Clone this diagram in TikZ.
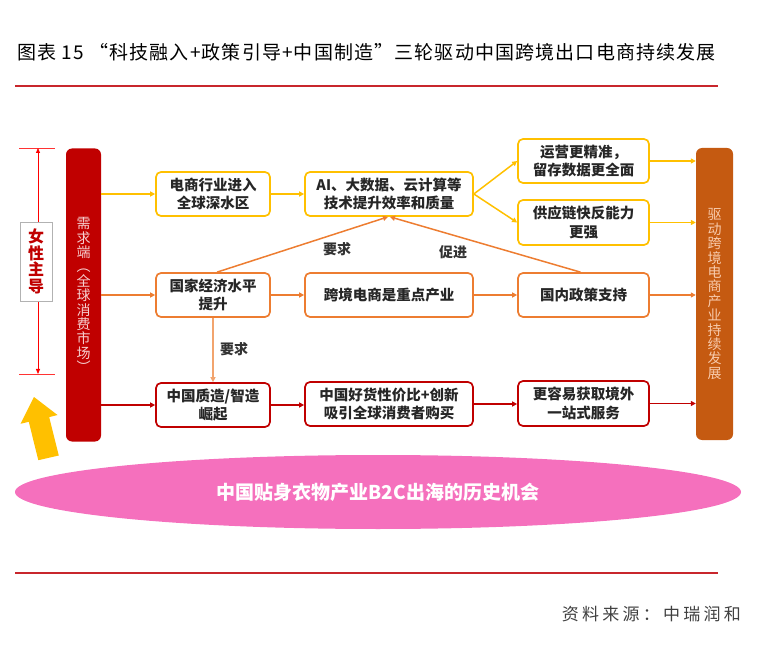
\documentclass[tikz,border=0pt]{standalone}
\usepackage{fontspec}
\usetikzlibrary{arrows.meta,shapes.geometric}
\newfontfamily\cjk{Noto Sans CJK SC}
\newfontfamily\cjktitle{Noto Sans CJK SC}[LetterSpace=6]
\newfontfamily\cjksrc{Noto Sans CJK SC}[LetterSpace=19]
\definecolor{ylw}{HTML}{FFC000}
\definecolor{org}{HTML}{ED7D31}
\definecolor{lorg}{HTML}{F2A46E}
\definecolor{drd}{HTML}{C00000}
\definecolor{brn}{HTML}{C55A11}
\definecolor{ttl}{HTML}{C8262C}
\definecolor{pnk}{HTML}{F570BD}
\definecolor{peach}{HTML}{F8CBAD}
\definecolor{lpink}{HTML}{F6D0D0}
\tikzset{
  box/.style={draw, rounded corners=5pt, line width=1.7pt, fill=white, align=center,
    font=\cjk\bfseries\fontsize{14.5}{18.5}\selectfont, inner sep=0pt, text=black!85},
  conn/.style={line width=1.5pt, -{Triangle[length=5pt,width=5pt]}},
  lbl/.style={font=\cjk\bfseries\fontsize{14}{15}\selectfont, text=black!80},
  vbar/.style={rounded corners=6pt, inner sep=0pt, align=center,
    font=\cjk\fontsize{14}{14.4}\selectfont},
}
\begin{document}
\begin{tikzpicture}[x=1pt,y=-1pt]
\useasboundingbox (0,0) rectangle (758,660);
% title and rules
\node[anchor=west, inner sep=0pt, font=\cjktitle\fontsize{19}{22}\selectfont] (title) at (17,52)
  {图表 15 “科技融入+政策引导+中国制造”三轮驱动中国跨境出口电商持续发展};
\draw[ttl, line width=2pt] (15,86) -- (718,86);
\draw[ttl, line width=1.5pt] (15,573) -- (718,573);
\node[anchor=east, inner sep=0pt, font=\cjksrc\fontsize{17}{20}\selectfont, text=black!75] (src) at (741,614)
  {资料来源：中瑞润和};

% side bars
\node[vbar, fill=drd, text=lpink, minimum width=35, minimum height=293] (lb) at (83.5,295)
  {需\\求\\端\\︵\\全\\球\\消\\费\\市\\场\\︶};
\node[vbar, fill=brn, text=peach, minimum width=37, minimum height=292] (rb) at (714.5,294)
  {驱\\动\\跨\\境\\电\\商\\产\\业\\持\\续\\发\\展};

% women-led dimension
\draw[red!80, line width=0.8pt] (19,148) -- (55,148);
\draw[red!80, line width=0.8pt] (19,374) -- (55,374);
\draw[red, line width=0.8pt, {Triangle[length=5pt,width=4pt]}-{Triangle[length=5pt,width=4pt]}] (38,148) -- (38,374);
\node[draw=black!30, fill=white, minimum width=32, minimum height=79, inner sep=0pt, align=center,
  font=\cjk\bfseries\fontsize{16}{16.5}\selectfont, text=drd] (nv) at (36,261.5) {女\\性\\主\\导};

% yellow big arrow
\fill[ylw] (58.8,455.5) -- (49.2,417.1) -- (57.5,415.0) -- (34,397) -- (20.5,423.8) -- (28.8,421.8) -- (38.3,460.2) -- cycle;

% row 1
\node[box, draw=ylw, minimum width=114, minimum height=44] (b1) at (213,194) {电商行业进入\\全球深水区};
\node[box, draw=ylw, minimum width=168, minimum height=44] (ai) at (389,194) {AI、大数据、云计算等\\技术提升效率和质量};
\node[box, draw=ylw, minimum width=131, minimum height=44] (y1) at (583.5,161) {运营更精准，\\留存数据更全面};
\node[box, draw=ylw, minimum width=131, minimum height=45] (y2) at (583.5,222.5) {供应链快反能力\\更强};
% row 2
\node[box, draw=org, minimum width=114, minimum height=44] (gj) at (213,295) {国家经济水平\\提升};
\node[box, draw=org, minimum width=168, minimum height=44] (kj) at (389,295) {跨境电商是重点产业};
\node[box, draw=org, minimum width=131, minimum height=44] (gn) at (583.5,295) {国内政策支持};
% row 3
\node[box, draw=drd, minimum width=114, minimum height=44] (zz) at (213,405) {中国质造/智造\\崛起};
\node[box, draw=drd, minimum width=168, minimum height=44] (hh) at (389,404) {中国好货性价比+创新\\吸引全球消费者购买};
\node[box, draw=drd, minimum width=131, minimum height=45] (gy) at (583.5,403.5) {更容易获取境外\\一站式服务};

% connectors row 1
\draw[conn, ylw] (lb.east |- b1.west) -- (b1.west);
\draw[conn, ylw] (b1.east) -- (ai.west);
\draw[conn, ylw] (ai.east) -- (y1.west);
\draw[conn, ylw] (ai.east) -- (y2.west);
\draw[conn, ylw] (y1.east) -- (rb.west |- y1.east);
\draw[conn, ylw] (y2.east) -- (rb.west |- y2.east);
% row 2
\draw[conn, org] (lb.east |- gj.west) -- (gj.west);
\draw[conn, org] (gj.east) -- (kj.west);
\draw[conn, org] (kj.east) -- (gn.west);
\draw[conn, org] (gn.east) -- (rb.west |- gn.east);
\draw[conn, org] ([xshift=4pt]gj.north) -- ([xshift=-1pt]ai.south);
\draw[conn, org] ([xshift=-3pt]gn.north) -- ([xshift=1pt]ai.south);
\draw[conn, lorg] (gj.south) -- (zz.north);
% row 3
\draw[conn, drd] (lb.east |- zz.west) -- (zz.west);
\draw[conn, drd] (zz.east) -- (hh.west |- zz.east);
\draw[conn, drd] (hh.east) -- (gy.west |- hh.east);
\draw[conn, drd] (gy.east) -- (rb.west |- gy.east);

% labels
\node[lbl] (l1) at (337,249) {要求};
\node[lbl] (l2) at (453,252) {促进};
\node[lbl] (l3) at (234,349) {要求};

% bottom ellipse
\node[ellipse, fill=pnk, minimum width=726, minimum height=74, inner sep=0pt,
  font=\cjk\bfseries\fontsize{19}{22}\selectfont, text=white] (el) at (378,492)
  {中国贴身衣物产业B2C出海的历史机会};
\end{tikzpicture}
\end{document}
